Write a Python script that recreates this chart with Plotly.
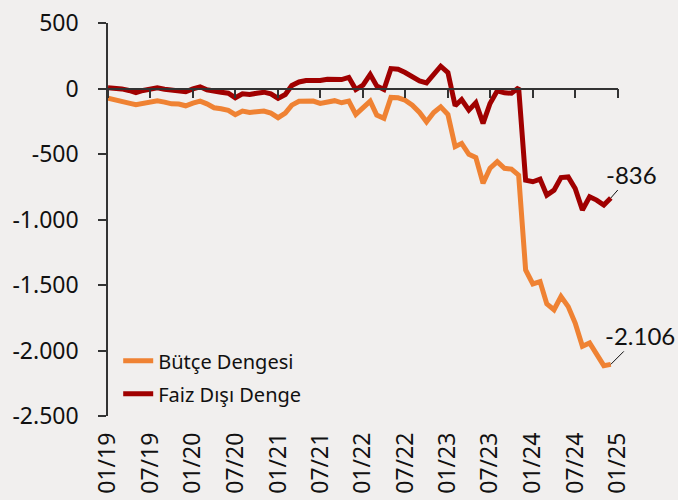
import pandas as pd
import plotly.graph_objects as go

months = pd.date_range("2019-01-01", periods=72, freq="MS")

butce_dengesi = [-74, -84, -97, -112, -124, -112, -102, -94, -104, -117, -119, -132,
                 -112, -97, -117, -147, -155, -167, -200, -172, -183, -175, -172, -188,
                 -223, -188, -127, -97, -93, -96, -114, -101, -93, -109, -96, -198,
                 -152, -96, -203, -228, -68, -71, -89, -127, -183, -254, -183, -140,
                 -198, -444, -419, -502, -527, -723, -609, -558, -609, -615, -662, -1385,
                 -1492, -1474, -1644, -1689, -1588, -1665, -1791, -1968, -1943, -2032, -2116, -2106]

faiz_disi_denge = [5, 3, -3, -15, -31, -15, -3, 5, -5, -10, -13, -25,
                   -3, 13, -10, -23, -28, -36, -71, -41, -46, -36, -28, -41,
                   -76, -46, 23, 50, 61, 61, 61, 71, 73, 68, 85, -8,
                   25, 107, 20, -8, 152, 147, 122, 94, 58, 43, 114, 170,
                   122, -132, -84, -165, -109, -266, -114, -18, -33, -36, 5, -700,
                   -712, -692, -814, -776, -680, -675, -763, -928, -827, -852, -890, -836]

y_tickvals = [500, 0, -500, -1000, -1500, -2000, -2500]
y_ticktext = ["500", "0", "-500", "-1.000", "-1.500", "-2.000", "-2.500"]
y_range = [-2500, 500]
x_range = ["2019-01-01", "2025-01-01"]

label_faiz = "-836"
label_butce = "-2.106"

BG = "#F1EFEE"
ORANGE = "#EF8233"
DARKRED = "#A00000"
AXIS = "#333333"
FONT = "Noto Sans"

fig = go.Figure()
fig.add_trace(go.Scatter(x=months, y=butce_dengesi, name="Bütçe Dengesi", mode="lines",
                         legendgroup="a", line=dict(color=ORANGE, width=5)))
fig.add_trace(go.Scatter(x=months, y=faiz_disi_denge, name="Faiz Dışı Denge", mode="lines",
                         legendgroup="b", line=dict(color=DARKRED, width=5)))
# invisible trace to carry the bottom label axis
fig.add_trace(go.Scatter(x=months, y=faiz_disi_denge, xaxis="x2", mode="lines",
                         line=dict(width=0), opacity=0, showlegend=False, hoverinfo="skip"))

zero_pos = (0 - y_range[0]) / (y_range[1] - y_range[0])

fig.update_layout(
    width=678, height=500,
    margin=dict(l=108, r=60, t=23, b=84),
    paper_bgcolor=BG, plot_bgcolor=BG,
    font=dict(family=FONT, color="#111111"),
    showlegend=True,
    legend=dict(x=0.02, y=0.19, xanchor="left", yanchor="top",
                bgcolor="rgba(0,0,0,0)", font=dict(size=20, family=FONT, color="#111111"),
                tracegroupgap=4),
    xaxis=dict(type="date", range=x_range, anchor="free", position=zero_pos,
               showline=True, linecolor=AXIS, linewidth=1.5,
               ticks="outside", ticklen=9, tickcolor=AXIS, tickwidth=1.5,
               dtick="M6", tick0="2019-01-01", showticklabels=False,
               showgrid=False, zeroline=False, automargin=False),
    xaxis2=dict(type="date", range=x_range, overlaying="x", anchor="y", side="bottom",
                showline=False, ticks="", dtick="M6", tick0="2019-01-01",
                tickformat="%m/%y", tickangle=-90, ticklabelstandoff=11,
                tickfont=dict(size=23, family=FONT, color="#111111"),
                showgrid=False, zeroline=False, automargin=False),
    yaxis=dict(range=y_range, tickvals=y_tickvals, ticktext=y_ticktext,
               showline=True, linecolor=AXIS, linewidth=1.5,
               ticks="outside", ticklen=8, tickcolor=AXIS, tickwidth=1.5,
               ticklabelstandoff=15,
               tickfont=dict(size=23, family=FONT, color="#111111"),
               showgrid=False, zeroline=False, automargin=False),
)

fig.add_annotation(x=months[-1], y=faiz_disi_denge[-1], text=label_faiz,
                   showarrow=True, arrowhead=0, arrowwidth=1, arrowcolor="#111111",
                   ax=21, ay=-24, font=dict(family="Lato", size=24, color="#111111"))
fig.add_annotation(x=months[-1], y=butce_dengesi[-1], text=label_butce,
                   showarrow=True, arrowhead=0, arrowwidth=1, arrowcolor="#111111",
                   ax=29, ay=-29, font=dict(family="Lato", size=24, color="#111111"))

fig.write_html("out.html", config={"displayModeBar": False},
               post_script="document.body.style.margin='0';document.body.style.overflow='hidden';")
